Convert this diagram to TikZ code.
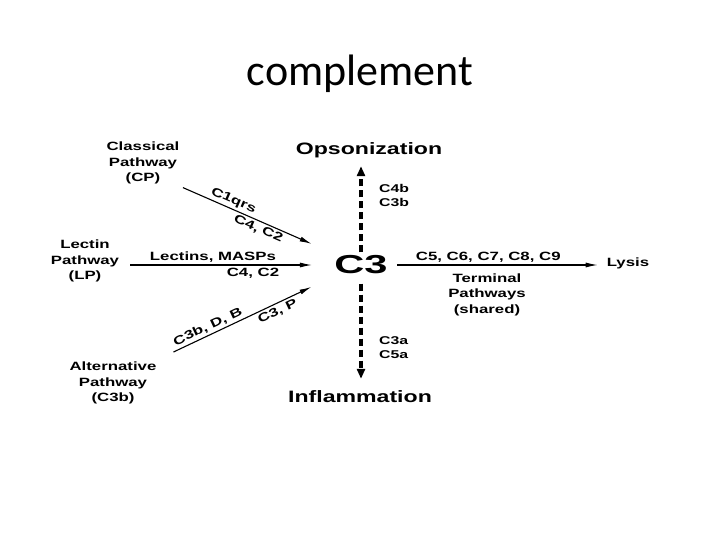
\documentclass[tikz,border=0pt]{standalone}
\usepackage{fontspec}
\usepackage{tikz}
\usetikzlibrary{arrows.meta,positioning,calc}
\newfontfamily\figfont[FakeStretch=1.4]{Liberation Sans}
\newfontfamily\hubfont[FakeStretch=1.6]{Liberation Sans}
\newfontfamily\titlefont{Carlito}

\begin{document}
\begin{tikzpicture}[x=1pt,y=-1pt,
 lbl/.style={font=\figfont\bfseries\fontsize{12}{15.5}\selectfont,align=center,inner sep=3.3pt},
 tag/.style={font=\figfont\bfseries\fontsize{11.3}{14}\selectfont,align=left,inner sep=2pt},
 big/.style={font=\figfont\bfseries\fontsize{16.5}{18}\selectfont,inner sep=3.3pt},
 arr/.style={-{Latex[length=12pt,width=5pt]},line width=1.1pt},
 dasharr/.style={-{Triangle[length=10pt,width=8pt]},line width=3.2pt,dash pattern=on 7pt off 4pt}]
\path[fill=white] (0,0) rectangle (720,540);
\useasboundingbox (0,0) rectangle (720,540);
\node[font=\titlefont\fontsize{44}{50}\selectfont,anchor=base] (title) at (360,86) {complement};
% centre and outcomes
\node[font=\hubfont\bfseries\fontsize{26}{30}\selectfont,inner sep=3.3pt] (c3) at (361,265) {C3};
\node[big] (opso) at (369,150) {Opsonization};
\node[big] (infl) at (360,397) {Inflammation};
\node[lbl] (lysis) at (628,263) {Lysis};
\node[lbl] (term) at (487,294.5) {Terminal\\Pathways\\(shared)};
% pathways
\node[lbl] (cp) at (143,163) {Classical\\Pathway\\(CP)};
\node[lbl] (lp) at (85,261) {Lectin\\Pathway\\(LP)};
\node[lbl] (ap) at (113,383) {Alternative\\Pathway\\(C3b)};
\node[tag,anchor=west] (up) at (377,195.5) {C4b\\C3b};
\node[tag,anchor=west,font=\figfont\bfseries\fontsize{11.3}{13.5}\selectfont] (down) at (377,347.5) {C3a\\C5a};
\draw[arr,shorten >=21pt] (cp.south east) -- (c3.north west)
 node[lbl,inner sep=2pt,sloped,above,pos=0.32] (cpa) {C1qrs}
 node[lbl,inner sep=2pt,sloped,below,pos=0.53] (cpb) {C4, C2};
\draw[arr,shorten <=7.6pt,shorten >=19pt] (lp.east |- c3.west) -- (c3.west)
 node[lbl,inner sep=2pt,above,pos=0.434] (lpa) {Lectins, MASPs}
 node[lbl,inner sep=2pt,below=1pt,pos=0.626] (lpb) {C4, C2};
\draw[arr,shorten <=15pt,shorten >=21.5pt] (ap.north east) -- (c3.south west)
 node[lbl,inner sep=2pt,sloped,above,pos=0.30] (apa) {C3b, D, B}
 node[lbl,inner sep=2pt,sloped,below,pos=0.67] (apb) {C3, P};
\draw[arr,shorten <=6pt,shorten >=5.6pt] (c3.east) -- (c3.east -| lysis.west)
 node[lbl,inner sep=2pt,above,pos=0.458] (term5) {C5, C6, C7, C8, C9};
\draw[dasharr,shorten >=5pt] (c3.north) -- (c3.north |- opso.south);
\draw[dasharr,shorten <=6pt,shorten >=8.6pt] (c3.south) -- (c3.south |- infl.north);
\end{tikzpicture}
\end{document}
